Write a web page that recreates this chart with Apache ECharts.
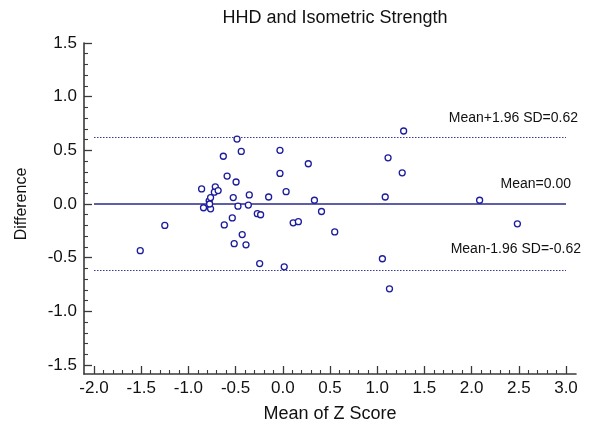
<!DOCTYPE html>
<html>
<head>
<meta charset="utf-8">
<script src="https://cdn.jsdelivr.net/npm/echarts@6/dist/echarts.min.js"></script>
<style>
html,body{margin:0;padding:0;background:#fff;}
#chart{width:600px;height:439px;}
</style>
</head>
<body>
<div id="chart"></div>
<script>
// ---- data ----
const meanOfZ = [
  -1.51, -1.25, -0.86, -0.84, -0.78, -0.765, -0.765, -0.775, -0.715, -0.725,
  -0.685, -0.63, -0.59, -0.62, -0.535, -0.525, -0.515, -0.495, -0.485, -0.475,
  -0.44, -0.43, -0.39, -0.365, -0.355, -0.27, -0.235, -0.245, -0.15, -0.03,
  -0.03, 0.035, 0.015, 0.11, 0.165, 0.27, 0.335, 0.41, 0.55, 1.055,
  1.085, 1.115, 1.13, 1.265, 1.28, 2.085, 2.485
];
const difference = [
  -0.435, -0.20, 0.14, -0.035, 0.03, 0.06, -0.045, 0.00, 0.16, 0.11,
  0.125, 0.445, 0.26, -0.195, -0.13, 0.06, -0.37, 0.205, 0.605, -0.02,
  0.49, -0.285, -0.38, -0.01, 0.085, -0.09, -0.10, -0.555, 0.065, 0.50,
  0.285, 0.115, -0.585, -0.175, -0.165, 0.375, 0.035, -0.07, -0.26, -0.51,
  0.065, 0.43, -0.79, 0.29, 0.68, 0.035, -0.185
];
const meanDiff = 0.00;
const upperLimit = 0.62;
const lowerLimit = -0.62;
const xRange = [-2.0, 3.0];
const yRange = [-1.5, 1.5];
const tickStep = 0.5;

const titleText = 'HHD and Isometric Strength';
const xName = 'Mean of Z Score';
const yName = 'Difference';

// ---- chart ----
const points = meanOfZ.map((x, i) => [x, difference[i]]);
const navy = '#1c1c9c';
const axisColor = '#3a3a3a';
const font = 'Liberation Sans, Arial, sans-serif';

const chart = echarts.init(document.getElementById('chart'), null, {renderer: 'canvas'});
chart.setOption({
  backgroundColor: '#fff',
  animation: false,
  title: {
    text: titleText,
    left: 330,
    textAlign: 'center',
    top: 4,
    textStyle: {fontFamily: font, fontSize: 18, fontWeight: 'normal', color: '#111'}
  },
  grid: [
    {left: 94, right: 34, top: 43, bottom: 74},
    {left: 84, right: 24, top: 43, bottom: 65}
  ],
  xAxis: [
    {
      gridIndex: 0, type: 'value', min: xRange[0], max: xRange[1], interval: tickStep,
      position: 'bottom',
      offset: 9,
      axisLine: {show: false, onZero: false},
      axisTick: {show: true, inside: true, length: 8, lineStyle: {color: axisColor, width: 1.3}},
      minorTick: {show: true, splitNumber: 5, length: 4, lineStyle: {color: axisColor, width: 1.1}},
      splitLine: {show: false},
      axisLabel: {margin: 6, fontFamily: font, fontSize: 17, color: '#111',
        formatter: v => v.toFixed(1), showMinLabel: true, showMaxLabel: true},
      name: xName, nameLocation: 'middle', nameGap: 31,
      nameTextStyle: {fontFamily: font, fontSize: 18, color: '#111'}
    },
    {
      gridIndex: 1, type: 'value', min: 0, max: 1, position: 'bottom',
      axisLine: {show: true, onZero: false, lineStyle: {color: axisColor, width: 1.6}},
      axisTick: {show: false}, axisLabel: {show: false}, splitLine: {show: false}
    }
  ],
  yAxis: [
    {
      gridIndex: 0, type: 'value', min: yRange[0], max: yRange[1], interval: tickStep,
      position: 'left',
      offset: 10,
      axisLine: {show: false, onZero: false},
      axisTick: {show: true, inside: true, length: 8, lineStyle: {color: axisColor, width: 1.3}},
      minorTick: {show: true, splitNumber: 5, length: 4, lineStyle: {color: axisColor, width: 1.1}},
      splitLine: {show: false},
      axisLabel: {margin: 7, fontFamily: font, fontSize: 17, color: '#111',
        formatter: v => v.toFixed(1), showMinLabel: true, showMaxLabel: true},
      name: yName, nameLocation: 'middle', nameGap: 54, nameRotate: 90,
      nameTextStyle: {fontFamily: font, fontSize: 16, color: '#111'}
    },
    {
      gridIndex: 1, type: 'value', min: 0, max: 1, position: 'left',
      axisLine: {show: true, onZero: false, lineStyle: {color: axisColor, width: 1.6}},
      axisTick: {show: false}, axisLabel: {show: false}, splitLine: {show: false}
    }
  ],
  series: [
    {
      type: 'scatter',
      xAxisIndex: 0, yAxisIndex: 0,
      data: points,
      symbol: 'circle',
      symbolSize: 6,
      itemStyle: {color: '#fff', borderColor: navy, borderWidth: 1.3, opacity: 1},
      z: 5,
      markLine: {
        silent: true,
        symbol: ['none', 'none'],
        z: 3,
        data: [
          {
            yAxis: meanDiff,
            lineStyle: {type: 'solid', width: 1.6, color: '#2a2a8a'},
            label: {show: true, position: 'insideEndTop', distance: [-5, 13],
              formatter: 'Mean=' + meanDiff.toFixed(2),
              fontFamily: font, fontSize: 14, color: '#111'}
          },
          {
            yAxis: upperLimit,
            lineStyle: {type: [1.5, 1.5], width: 1, color: '#3a3a9a'},
            label: {show: true, position: 'insideEndTop', distance: [-12, 12],
              formatter: 'Mean+1.96 SD=' + upperLimit.toFixed(2),
              fontFamily: font, fontSize: 14, color: '#111'}
          },
          {
            yAxis: lowerLimit,
            lineStyle: {type: [1.5, 1.5], width: 1, color: '#3a3a9a'},
            label: {show: true, position: 'insideEndTop', distance: [-15, 14],
              formatter: 'Mean-1.96 SD=' + lowerLimit.toFixed(2),
              fontFamily: font, fontSize: 14, color: '#111'}
          }
        ]
      }
    }
  ]
});
</script>
</body>
</html>
